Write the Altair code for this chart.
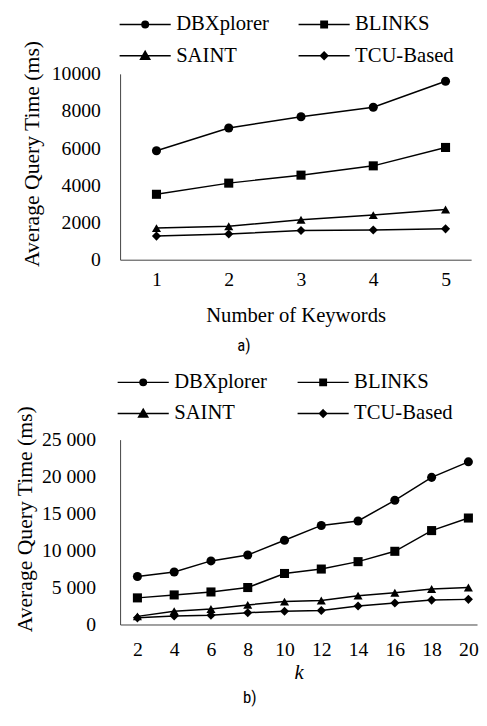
import altair as alt
import pandas as pd

series = ["DBXplorer", "BLINKS", "SAINT", "TCU-Based"]
marker_shapes = ["circle", "square", "triangle-up", "diamond"]

# Panel a) values vs number of keywords
keywords = [1, 2, 3, 4, 5]
a_dbxplorer = [5860, 7090, 7690, 8200, 9600]
a_blinks = [3520, 4120, 4550, 5050, 6040]
a_saint = [1700, 1800, 2150, 2400, 2700]
a_tcu = [1270, 1380, 1570, 1600, 1660]
a_y_ticks = [0, 2000, 4000, 6000, 8000, 10000]

# Panel b) values vs k
k_values = [2, 4, 6, 8, 10, 12, 14, 16, 18, 20]
b_dbxplorer = [6500, 7100, 8600, 9400, 11400, 13400, 14000, 16800, 19900, 22000]
b_blinks = [3600, 4000, 4400, 5000, 6900, 7500, 8500, 9900, 12700, 14400]
b_saint = [1100, 1800, 2100, 2650, 3100, 3250, 3900, 4300, 4800, 5000]
b_tcu = [900, 1150, 1250, 1600, 1800, 1900, 2500, 2900, 3300, 3400]
b_y_ticks = [0, 5000, 10000, 15000, 20000, 25000]

SERIF = "Liberation Serif"
SANS = "Liberation Sans Narrow, Roboto Condensed, Roboto, Liberation Sans"
AXIS_COLOR = "#404040"

LINE = "M-4.333,0L4.333,0"


def ring(r):
    return f"M{r},0A{r},{r},0,1,1,-{r},0A{r},{r},0,1,1,{r},0Z"


def sq(h):
    return f"M-{h},-{h}L{h},-{h}L{h},{h}L-{h},{h}Z"


def dia(h):
    return f"M0,-{h}L{h},0L0,{h}L-{h},0Z"


# legend symbols: line with the marker drawn as nested outlines (stroke only)
legend_paths = [
    LINE + ring(0.55) + ring(0.35) + ring(0.15),
    LINE + sq(0.542) + sq(0.333) + sq(0.125),
    LINE + "M0,-0.75L0.78,0.6L-0.78,0.6Z"
    + "M0,-0.408L0.484,0.429L-0.484,0.429Z"
    + "M0,-0.075L0.195,0.263L-0.195,0.263Z",
    LINE + dia(0.625) + dia(0.4) + dia(0.167),
]


def long_df(xs, cols):
    rows = []
    for s, vals in zip(series, cols):
        for xv, v in zip(xs, vals):
            rows.append({"x": xv, "value": v, "series": s})
    return pd.DataFrame(rows)


def panel(df, width, height, x_pad, x_align, ymax, yticks, ylabel_expr, y_label_pad,
          y_title_y, y_title_pad, x_label_pad, xtitle, xtitle_style, x_title_pad,
          legend_x, legend_y, col_pad, caption, caption_dx, caption_offset, left_edge):
    x = alt.X(
        "x:O",
        scale=alt.Scale(type="point", padding=x_pad, align=x_align),
        axis=alt.Axis(
            title=xtitle, labelAngle=0, ticks=False, labelPadding=x_label_pad,
            labelFont=SERIF, labelFontSize=20, labelColor="black",
            titleFont=SERIF, titleFontSize=21, titleFontWeight="normal",
            titleFontStyle=xtitle_style, titleColor="black", titlePadding=x_title_pad,
            domainColor=AXIS_COLOR, grid=False,
        ),
    )
    y = alt.Y(
        "value:Q",
        scale=alt.Scale(domain=[0, ymax], nice=False, zero=True),
        axis=alt.Axis(
            title="Average Query Time (ms)", values=yticks, labelExpr=ylabel_expr,
            ticks=False, labelPadding=y_label_pad, labelFont=SERIF, labelFontSize=20,
            labelColor="black", titleFont=SERIF, titleFontSize=22,
            titleFontWeight="normal", titleColor="black", titleY=y_title_y,
            titlePadding=y_title_pad, domainColor=AXIS_COLOR, grid=False,
        ),
    )
    lines = alt.Chart(df).mark_line(color="black", strokeWidth=1.5).encode(
        x=x, y=y, detail="series:N"
    )
    points = alt.Chart(df).mark_point(
        filled=True, color="black", opacity=1, size=85
    ).encode(
        x=x,
        y=y,
        shape=alt.Shape(
            "series:N",
            scale=alt.Scale(domain=series, range=marker_shapes),
            legend=None,
        ),
    )
    legend_layer = alt.Chart(df).mark_point(
        filled=False, color="black", strokeWidth=1.5, opacity=0, size=1
    ).encode(
        x=x,
        y=y,
        shape=alt.Shape(
            "series:N",
            scale=alt.Scale(domain=series, range=legend_paths),
            legend=alt.Legend(
                title=None, orient="none", legendX=legend_x, legendY=legend_y,
                direction="horizontal", columns=2, labelFont=SERIF,
                labelFontSize=21, labelColor="black",
                labelOffset=21, symbolSize=144, symbolStrokeWidth=1.5,
                symbolStrokeColor="black",
                symbolOpacity=1, rowPadding=10, columnPadding=col_pad, padding=0,
                symbolOffset=0,
            ),
        ),
    )
    # invisible anchor fixing where the panel's left bound starts
    anchor = alt.Chart(pd.DataFrame({"v": [0]})).mark_text(
        text=".", opacity=0, align="left", fontSize=4
    ).encode(x=alt.value(left_edge), y=alt.value(height / 2))
    return alt.layer(lines, points, legend_layer, anchor).resolve_scale(
        shape="independent"
    ).properties(
        width=width,
        height=height,
        title=alt.TitleParams(
            text=caption, orient="bottom", anchor="middle", frame="group",
            font=SANS, fontSize=17, fontWeight="normal", color="black",
            dx=caption_dx, offset=caption_offset,
        ),
    )


df_a = long_df(keywords, [a_dbxplorer, a_blinks, a_saint, a_tcu])
df_b = long_df(k_values, [b_dbxplorer, b_blinks, b_saint, b_tcu])

chart_a = panel(
    df_a, 357, 189, 0.4286, 0.587, 10000, a_y_ticks, "format(datum.value, 'd')", 20,
    81, 8, 10, "Number of Keywords", "normal", 16,
    15, -61, 26, "a)", -52.5, 13, -114,
)
chart_b = panel(
    df_b, 363, 188, 0.353, 0.667, 25000, b_y_ticks,
    "replace(format(datum.value, ','), ',', ' ')", 25, 80.5, 5,
    16, "k", "italic", 2,
    13, -69, 27, "b)", -49.5, 8, -108,
)

chart = alt.vconcat(
    chart_a,
    chart_b,
    spacing=18,
).properties(
    padding={"left": 0, "top": 0, "right": 0, "bottom": 0}
).configure_view(stroke=None)

chart.save("out.html", embed_options={"renderer": "svg", "actions": False})
